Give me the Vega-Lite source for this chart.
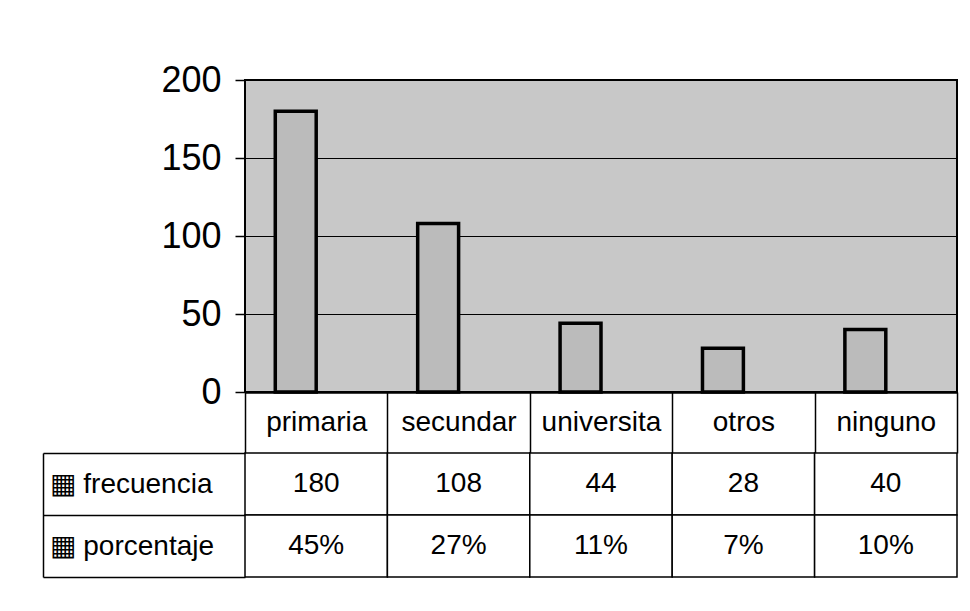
{
  "$schema": "https://vega.github.io/schema/vega-lite/v6.json",
  "padding": {"left": 42, "top": 61, "right": 10, "bottom": 10},
  "background": "white",
  "bounds": "flush",
  "spacing": 61,
  "config": {"font": "Liberation Sans", "view": {"stroke": null}},
  "datasets": {
    "d": [
      {"categoria": "primaria", "serie": "frecuencia", "valor": 180},
      {"categoria": "secundar", "serie": "frecuencia", "valor": 108},
      {"categoria": "universita", "serie": "frecuencia", "valor": 44},
      {"categoria": "otros", "serie": "frecuencia", "valor": 28},
      {"categoria": "ninguno", "serie": "frecuencia", "valor": 40},
      {"categoria": "primaria", "serie": "porcentaje", "valor": 0.45},
      {"categoria": "secundar", "serie": "porcentaje", "valor": 0.27},
      {"categoria": "universita", "serie": "porcentaje", "valor": 0.11},
      {"categoria": "otros", "serie": "porcentaje", "valor": 0.07},
      {"categoria": "ninguno", "serie": "porcentaje", "valor": 0.10}
    ]
  },
  "vconcat": [
    {
      "width": 712,
      "height": 312,
      "data": {"name": "d"},
      "view": {"fill": "#c8c8c8", "stroke": "black", "strokeWidth": 2},
      "mark": {"type": "bar", "fill": "#bbbbbb", "stroke": "black"},
      "encoding": {
        "x": {
          "field": "categoria",
          "type": "nominal",
          "sort": ["primaria", "secundar", "universita", "otros", "ninguno"],
          "scale": {"paddingInner": 0, "paddingOuter": 0},
          "axis": {
            "title": null,
            "orient": "bottom",
            "tickBand": "extent",
            "tickSize": 61,
            "tickColor": "black",
            "tickWidth": 1.5,
            "domainColor": "black",
            "domainWidth": 2.5,
            "labelAngle": 0,
            "labelFontSize": 28,
            "labelColor": "black",
            "labelBaseline": "middle",
            "labelPadding": -31
          }
        },
        "xOffset": {
          "field": "serie",
          "type": "nominal",
          "sort": ["frecuencia", "porcentaje"],
          "scale": {"paddingInner": 0, "paddingOuter": 0.74}
        },
        "y": {
          "field": "valor",
          "type": "quantitative",
          "scale": {"domain": [0, 200], "nice": false},
          "axis": {
            "title": null,
            "values": [0, 50, 100, 150, 200],
            "grid": true,
            "gridColor": "black",
            "gridWidth": 1,
            "gridOpacity": 1,
            "tickColor": "black",
            "tickSize": 10,
            "tickWidth": 1.5,
            "domain": false,
            "labelFontSize": 36,
            "labelPadding": 14,
            "labelColor": "black"
          }
        },
        "strokeWidth": {
          "condition": {"test": "datum.serie == 'frecuencia'", "value": 3.5},
          "value": 0
        },
        "fillOpacity": {
          "condition": {"test": "datum.serie == 'frecuencia'", "value": 1},
          "value": 0
        }
      }
    },
    {
      "width": 712,
      "height": 124,
      "data": {"name": "d"},
      "encoding": {
        "x": {
          "field": "categoria",
          "type": "nominal",
          "sort": ["primaria", "secundar", "universita", "otros", "ninguno"],
          "scale": {"paddingInner": 0, "paddingOuter": 0},
          "axis": null
        },
        "y": {
          "field": "serie",
          "type": "nominal",
          "sort": ["frecuencia", "porcentaje"],
          "scale": {"paddingInner": 0, "paddingOuter": 0},
          "axis": {
            "title": null,
            "offset": 202,
            "tickBand": "extent",
            "tickSize": -202,
            "tickColor": "black",
            "tickWidth": 1.5,
            "domainColor": "black",
            "domainWidth": 1.5,
            "labelAlign": "left",
            "labelPadding": 196,
            "labelFontSize": 28,
            "labelColor": "black",
            "labelExpr": "datum.label ? '▦ ' + datum.label : ''"
          }
        }
      },
      "layer": [
        {
          "mark": {"type": "rect", "fill": "white", "stroke": "black", "strokeWidth": 1.5}
        },
        {
          "mark": {"type": "text", "fontSize": 28, "color": "black"},
          "encoding": {
            "text": {
              "condition": {"test": "datum.serie == 'porcentaje'", "field": "valor", "type": "quantitative", "format": ".0%"},
              "field": "valor",
              "type": "quantitative",
              "format": "d"
            }
          }
        }
      ]
    }
  ]
}
